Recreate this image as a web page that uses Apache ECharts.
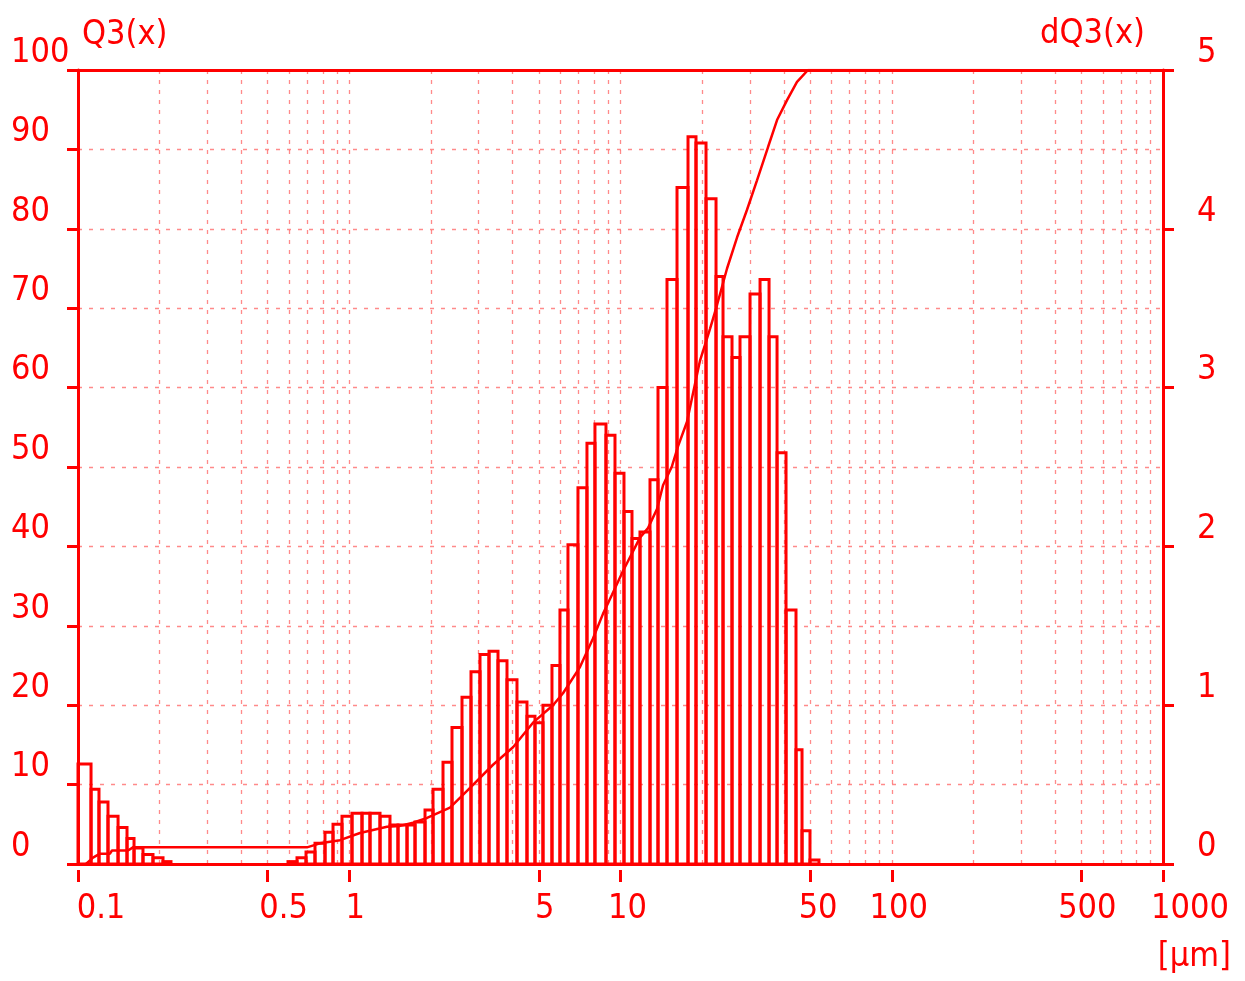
<!DOCTYPE html>
<html>
<head>
<meta charset="utf-8">
<script src="https://cdn.jsdelivr.net/npm/echarts@6/dist/echarts.min.js"></script>
<style>
html,body{margin:0;padding:0;background:#fff;}
#chart{width:1245px;height:981px;}
</style>
</head>
<body>
<div id="chart"></div>
<script>
// ---- size classes (µm) : lower and upper bound of every histogram bar ----
const binFrom = [0.1, 0.1117, 0.1195, 0.1290, 0.1405, 0.1516, 0.1609, 0.1736, 0.1890, 0.2058,
  0.5946, 0.6418, 0.6928, 0.7477, 0.8140, 0.8712, 0.9403, 1.0235, 1.1143, 1.1926,
  1.2985, 1.4132, 1.5125, 1.6331, 1.7478, 1.9026, 2.0365, 2.2164, 2.3921, 2.6042,
  2.8110, 3.0342, 3.2750, 3.5350, 3.8156, 4.1534, 4.5212, 4.8386, 5.1784, 5.5895,
  5.9820, 6.4021, 6.9691, 7.5224, 8.0506, 8.8409, 9.5428, 10.300, 11.024, 11.798,
  12.846, 13.748, 14.840, 16.157, 17.738, 18.983, 20.668, 22.500, 23.876, 25.771,
  27.580, 30.029, 32.693, 35.288, 37.768, 40.763, 44.364, 46.689, 49.952];
const binTo = [0.1117, 0.1195, 0.1290, 0.1405, 0.1516, 0.1609, 0.1736, 0.1890, 0.2058, 0.2202,
  0.6418, 0.6928, 0.7477, 0.8140, 0.8712, 0.9403, 1.0235, 1.1143, 1.1926, 1.2985,
  1.4132, 1.5125, 1.6331, 1.7478, 1.9026, 2.0365, 2.2164, 2.3921, 2.6042, 2.8110,
  3.0342, 3.2750, 3.5350, 3.8156, 4.1534, 4.5212, 4.8386, 5.1784, 5.5895, 5.9820,
  6.4021, 6.9691, 7.5224, 8.0506, 8.8409, 9.5428, 10.300, 11.024, 11.798, 12.846,
  13.748, 14.840, 16.157, 17.738, 18.983, 20.668, 22.500, 23.876, 25.771, 27.580,
  30.029, 32.693, 35.288, 37.768, 40.763, 44.364, 46.689, 49.952, 53.919];
// ---- density distribution dQ3(x) (right axis) ----
const dQ3 = [0.63, 0.47, 0.39, 0.30, 0.23, 0.16, 0.10, 0.06, 0.04, 0.015,
  0.015, 0.04, 0.075, 0.13, 0.20, 0.25, 0.30, 0.32, 0.32, 0.32,
  0.30, 0.245, 0.245, 0.245, 0.265, 0.34, 0.47, 0.64, 0.86, 1.05,
  1.21, 1.32, 1.34, 1.28, 1.16, 1.02, 0.93, 0.89, 1.00, 1.25,
  1.60, 2.01, 2.37, 2.65, 2.77, 2.70, 2.46, 2.22, 2.05, 2.09,
  2.42, 3.00, 3.68, 4.26, 4.58, 4.54, 4.19, 3.70, 3.32, 3.19,
  3.32, 3.59, 3.68, 3.32, 2.59, 1.60, 0.72, 0.21, 0.025];
// ---- cumulative distribution Q3(x) (left axis, %) ----
const cumX = [0.1070, 0.1136, 0.1205, 0.1312, 0.1334, 0.1529, 0.1595, 0.6985, 0.7801, 0.9246,
  1.0955, 1.3779, 1.5383, 1.7180, 1.9355, 2.3521, 2.7880, 3.3884, 4.0153, 4.7582,
  5.6389, 6.1376, 7.0893, 7.9168, 8.6177, 9.3028, 10.214, 11.798, 12.628, 13.634,
  14.349, 15.483, 16.293, 17.586, 18.508, 19.640, 21.380, 22.690, 24.703, 26.887,
  29.272, 31.859, 34.989, 37.768, 41.110, 44.741, 49.114, 250.6];
const cumQ3 = [0, 0.8, 1.3, 1.3, 1.7, 1.7, 2.1, 2.1, 2.6, 3.0,
  3.9, 4.7, 4.8, 5.2, 5.8, 7.1, 9.6, 12.5, 14.7, 17.8,
  20.0, 21.5, 24.8, 28.4, 31.5, 33.9, 36.9, 41.1, 42.3, 44.7,
  47.7, 50.1, 52.6, 55.7, 59.3, 63.4, 67.4, 70.4, 75.0, 78.9,
  82.4, 86.1, 90.3, 93.7, 96.2, 98.5, 100, 100];
// ---- axes ----
const xTickValues = [0.1, 0.5, 1, 5, 10, 50, 100, 500, 1000];
const xTickLabels = ['0.1', '0.5', '1', '5', '10', '50', '100', '500', '1000'];
const xGridValues = [0.2, 0.3, 0.4, 0.5, 0.6, 0.7, 0.8, 0.9, 1, 2, 3, 4, 5, 6, 7, 8, 9,
  10, 20, 30, 40, 50, 60, 70, 80, 90, 100, 200, 300, 400, 500, 600, 700, 800, 900];

// ---- styles ----
const RED = '#ff0000';
const GRID_RED = 'rgba(255,60,60,0.6)';
const FONT = "'Liberation Sans Narrow','DejaVu Sans Condensed','Liberation Sans',sans-serif";
const FS = 34;
const labelShift = [23, 16, 6, 6, 7, 8, 7, 6, 27];

const rich = {};
labelShift.forEach((s, i) => {
  rich['s' + i] = {color: RED, fontFamily: FONT, fontSize: FS, padding: [0, 0, 0, 2 * s]};
});

function tickIndex(v) {
  let best = -1, bd = 1e9;
  xTickValues.forEach((t, i) => {
    const d = Math.abs(Math.log10(v) - Math.log10(t));
    if (d < bd) { bd = d; best = i; }
  });
  return bd < 1e-6 ? best : -1;
}

const chart = echarts.init(document.getElementById('chart'), null, {renderer: 'canvas'});

const option = {
  animation: false,
  backgroundColor: '#ffffff',
  grid: {left: 78, right: 82, top: 70, bottom: 117, containLabel: false, outerBoundsMode: 'none'},
  xAxis: [
    {
      type: 'log', logBase: 10, min: 0.1, max: 1000, position: 'bottom',
      axisLine: {show: true, onZero: false, lineStyle: {color: RED, width: 3}},
      axisTick: {show: false, customValues: xGridValues},
      axisLabel: {show: false},
      minorTick: {show: false}, minorSplitLine: {show: false},
      splitLine: {show: true, lineStyle: {color: GRID_RED, width: 1.3, type: [4, 6]}}
    },
    {
      type: 'log', logBase: 10, min: 0.1, max: 1000, position: 'top',
      axisLine: {show: true, onZero: false, lineStyle: {color: RED, width: 3}},
      axisTick: {show: false}, axisLabel: {show: false}, splitLine: {show: false}
    },
    {
      type: 'log', logBase: 10, min: 0.1, max: 1000, position: 'bottom', offset: 6,
      axisLine: {show: false, onZero: false},
      axisTick: {show: true, customValues: xTickValues, length: 12, lineStyle: {color: RED, width: 3}},
      axisLabel: {
        show: true, customValues: xTickValues, margin: 22,
        color: RED, fontFamily: FONT, fontSize: FS,
        formatter: function (v) {
          const i = tickIndex(v);
          return i < 0 ? '' : '{s' + i + '|' + xTickLabels[i] + '}';
        },
        rich: rich
      },
      splitLine: {show: false},
      name: '[µm]', nameLocation: 'end', nameGap: 68,
      nameTextStyle: {color: RED, fontFamily: FONT, fontSize: FS, align: 'right', verticalAlign: 'top', padding: [70, 0, 0, 0]}
    }
  ],
  yAxis: [
    {
      type: 'value', min: 0, max: 100, interval: 10, position: 'left',
      axisLine: {show: true, onZero: false, lineStyle: {color: RED, width: 3}},
      axisTick: {show: true, length: 11, lineStyle: {color: RED, width: 3}},
      axisLabel: {color: RED, fontFamily: FONT, fontSize: FS, align: 'left', verticalAlign: 'bottom', margin: 67},
      splitLine: {show: true, lineStyle: {color: GRID_RED, width: 1.3, type: [4, 7]}},
      name: 'Q3(x)', nameLocation: 'end', nameGap: 35,
      nameTextStyle: {color: RED, fontFamily: FONT, fontSize: FS, align: 'left', verticalAlign: 'middle', padding: [0, 0, 0, 4]}
    },
    {
      type: 'value', min: 0, max: 5, interval: 1, position: 'right',
      axisLine: {show: true, onZero: false, lineStyle: {color: RED, width: 3}},
      axisTick: {show: true, length: 11, lineStyle: {color: RED, width: 3}},
      axisLabel: {color: RED, fontFamily: FONT, fontSize: FS, align: 'left', verticalAlign: 'bottom', margin: 34},
      splitLine: {show: false},
      name: 'dQ3(x)', nameLocation: 'end', nameGap: 36,
      nameTextStyle: {color: RED, fontFamily: FONT, fontSize: FS, align: 'right', verticalAlign: 'middle', padding: [0, 18, 0, 0]}
    }
  ],
  series: [
    {
      name: 'dQ3(x)', type: 'custom', xAxisIndex: 0, yAxisIndex: 1, z: 3,
      encode: {x: [0, 1], y: 2},
      data: binFrom.map((f, i) => [f, binTo[i], dQ3[i]]),
      renderItem: function (params, api) {
        const p0 = api.coord([api.value(0), api.value(2)]);
        const p1 = api.coord([api.value(1), 0]);
        return {
          type: 'rect',
          shape: {x: p0[0], y: p0[1], width: p1[0] - p0[0], height: p1[1] - p0[1]},
          style: {fill: 'rgba(0,0,0,0)', stroke: RED, lineWidth: 3}
        };
      }
    },
    {
      name: 'Q3(x)', type: 'line', xAxisIndex: 0, yAxisIndex: 0, z: 4,
      data: cumX.map((x, i) => [x, cumQ3[i]]),
      symbol: 'none', showSymbol: false, smooth: false,
      lineStyle: {color: RED, width: 2.5}
    }
  ]
};
chart.setOption(option);
</script>
</body>
</html>
